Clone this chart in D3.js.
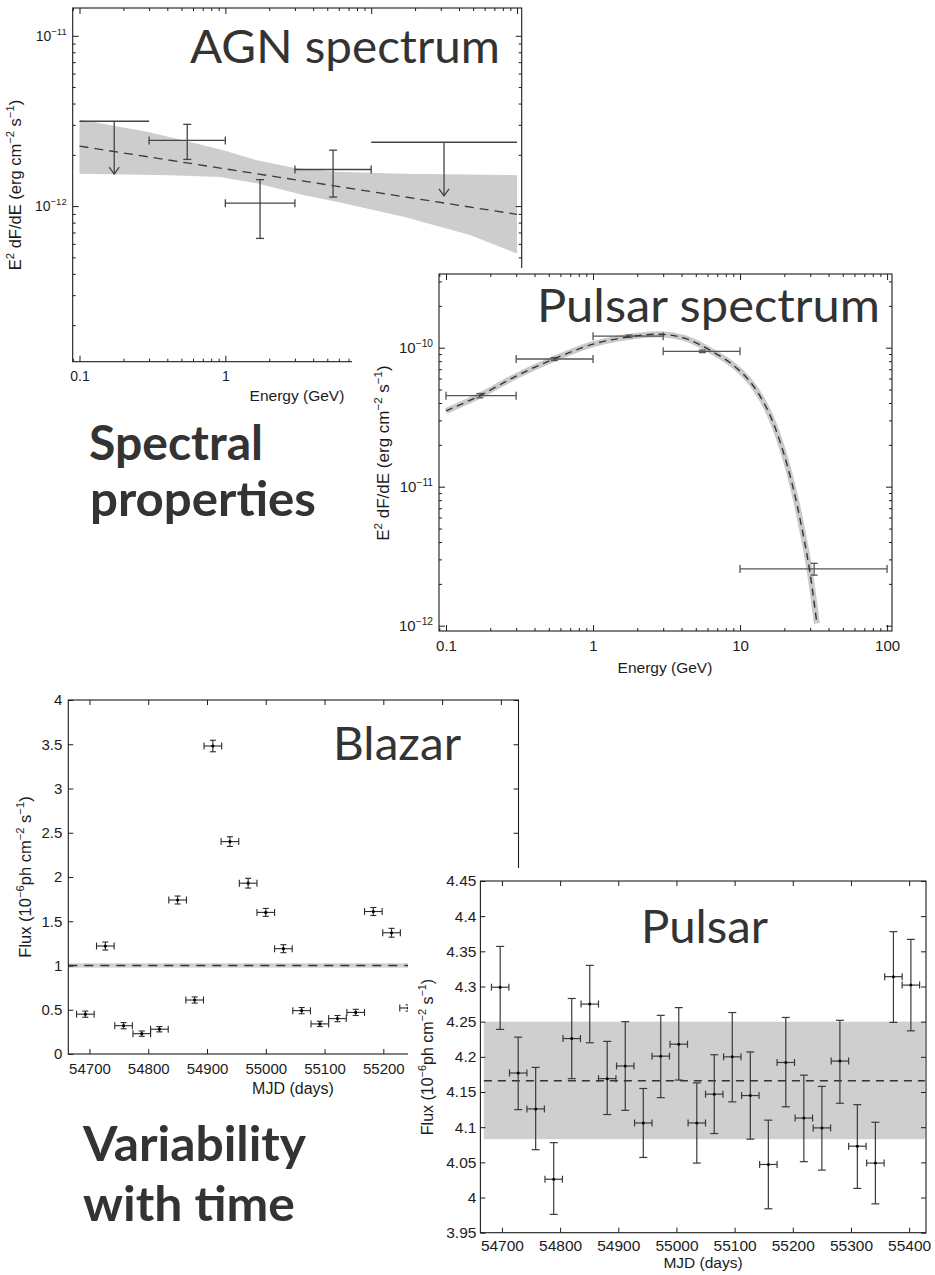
<!DOCTYPE html>
<html>
<head>
<meta charset="utf-8">
<title>Gamma-ray spectra and light curves</title>
<script src="https://cdn.jsdelivr.net/npm/d3@7/dist/d3.min.js"></script>
<style>
  html, body { margin: 0; padding: 0; background: #fff; }
  svg { display: block; }
</style>
</head>
<body>
<svg id="fig" width="935" height="1275"></svg>
<script>
// ---------- AGN spectrum: energy bins, fluxes, upper limits, power-law fit and band ----------
const agnBinLo   = [0.1, 0.3, 1, 3, 10];
const agnBinHi   = [0.3, 1, 3, 10, 100];
const agnEnergy  = [0.173, 0.548, 1.73, 5.48, 31.6];
const agnFlux    = [3.15e-12, 2.43e-12, 1.04e-12, 1.64e-12, 2.37e-12];
const agnFluxHi  = [3.15e-12, 3.02e-12, 1.43e-12, 2.13e-12, 2.37e-12];
const agnFluxLo  = [1.54e-12, 1.88e-12, 6.46e-13, 1.13e-12, 1.15e-12];
const agnIsLimit = [true, false, false, false, true];
const agnFitEnergy = [0.1, 100];
const agnFitFlux   = [2.25e-12, 8.94e-13];
const agnBandUpperE = [0.1, 0.29, 0.54, 0.97, 1.64, 2.93, 5.8, 16.7, 100];
const agnBandUpperF = [3.23e-12, 2.73e-12, 2.41e-12, 2.13e-12, 1.86e-12, 1.68e-12, 1.59e-12, 1.55e-12, 1.52e-12];
const agnBandLowerE = [0.1, 0.42, 0.92, 1.64, 3.41, 5.8, 16.7, 47.6, 100];
const agnBandLowerF = [1.55e-12, 1.52e-12, 1.48e-12, 1.36e-12, 1.16e-12, 1.06e-12, 8.65e-13, 6.76e-13, 5.27e-13];

// ---------- Pulsar spectrum: binned points and cut-off model curve ----------
const psrBinLo   = [0.1, 0.3, 1, 3, 10];
const psrBinHi   = [0.3, 1, 3, 10, 100];
const psrEnergy  = [0.17, 0.545, 1.76, 5.54, 31.9];
const psrFlux    = [4.52e-11, 8.29e-11, 1.21e-10, 9.42e-11, 2.56e-12];
const psrFluxErr = [1.6e-12, 2.0e-12, 2.4e-12, 2.0e-12, 2.5e-13];
const psrModelE  = [0.1, 0.17, 0.3, 0.54, 1.0, 1.78, 2.86, 4.1, 5.07, 6.23, 8.55, 11.7, 15.2, 18.7, 23.0, 26.9, 29.8, 33.3];
const psrModelF  = [3.51e-11, 4.52e-11, 6.25e-11, 8.29e-11, 1.06e-10, 1.2e-10, 1.25e-10, 1.18e-10, 1.08e-10, 9.6e-11,
                    7.8e-11, 5.69e-11, 3.66e-11, 2.11e-11, 9.73e-12, 4.49e-12, 2.45e-12, 1.04e-12];

// ---------- Blazar light curve (30-day bins) ----------
const blazarMjd  = [54693, 54727, 54758, 54789, 54819, 54850, 54879, 54910, 54939, 54970,
                    55000, 55030, 55061, 55092, 55122, 55153, 55183, 55214, 55243];
const blazarFlux = [0.45, 1.22, 0.32, 0.23, 0.28, 1.74, 0.61, 3.48, 2.40, 1.93,
                    1.60, 1.19, 0.49, 0.34, 0.40, 0.47, 1.61, 1.37, 0.52];
const blazarErr  = [0.035, 0.045, 0.035, 0.03, 0.03, 0.045, 0.035, 0.065, 0.055, 0.055,
                    0.045, 0.045, 0.035, 0.03, 0.035, 0.035, 0.045, 0.05, 0.035];
const blazarHalfBin = 15;
const blazarMean = 1.0;
const blazarMeanBand = [0.975, 1.025];

// ---------- Pulsar light curve (30-day bins) ----------
const pulsarMjd  = [54697, 54728, 54758, 54789, 54820, 54851, 54881, 54912, 54943, 54973, 55004, 55035,
                    55065, 55096, 55127, 55158, 55188, 55219, 55250, 55281, 55311, 55342, 55373, 55403];
const pulsarFlux = [4.299, 4.177, 4.126, 4.026, 4.226, 4.275, 4.169, 4.187, 4.106, 4.201, 4.218, 4.106,
                    4.147, 4.200, 4.145, 4.047, 4.192, 4.113, 4.099, 4.194, 4.073, 4.049, 4.314, 4.302];
const pulsarHi   = [4.357, 4.228, 4.185, 4.078, 4.283, 4.330, 4.222, 4.250, 4.155, 4.259, 4.270, 4.163,
                    4.203, 4.263, 4.207, 4.110, 4.256, 4.174, 4.158, 4.252, 4.132, 4.107, 4.378, 4.367];
const pulsarLo   = [4.239, 4.125, 4.068, 3.976, 4.169, 4.220, 4.118, 4.124, 4.057, 4.142, 4.167, 4.049,
                    4.091, 4.136, 4.083, 3.984, 4.129, 4.051, 4.039, 4.134, 4.013, 3.991, 4.249, 4.237];
const pulsarHalfBin = 15;
const pulsarMean = 4.166;
const pulsarMeanBand = [4.083, 4.25];
const pulsarBandMjd = [54669, 55427];

// ---------- tick values ----------
const energyTicks   = [0.1, 1, 10, 100];
const agnFluxTicks  = [1e-12, 1e-11];
const psrFluxTicks  = [1e-12, 1e-11, 1e-10];
const mjdTicks      = [54700, 54800, 54900, 55000, 55100, 55200, 55300, 55400];
const blazarTicks   = [0, 0.5, 1, 1.5, 2, 2.5, 3, 3.5, 4];
const pulsarTicks   = [3.95, 4, 4.05, 4.1, 4.15, 4.2, 4.25, 4.3, 4.35, 4.4, 4.45];

const AXIS_FONT  = '"Liberation Sans", Arial, Helvetica, sans-serif';
const TITLE_FONT = 'Lato, "Open Sans", "DejaVu Sans", sans-serif';
const INK = '#1c1c1c';
const TITLE_INK = '#333333';

const svg = d3.select('#fig');
svg.append('rect').attr('width', 935).attr('height', 1275).attr('fill', '#fff');

function minorLogTicks(domain) {
  const out = [];
  const lo = Math.floor(Math.log10(domain[0])), hi = Math.ceil(Math.log10(domain[1]));
  for (let e = lo; e < hi; e++) {
    for (let m = 2; m <= 9; m++) {
      const v = m * Math.pow(10, e);
      if (v >= domain[0] && v <= domain[1]) out.push(v);
    }
  }
  return out;
}

// Frame with inward ticks on all four sides (labels on bottom and left only)
function drawAxes(g, box, x, y, o) {
  const major = o.major || 6, minor = o.minor || 3;
  const blank = () => '';
  const style = s => s.attr('font-family', AXIS_FONT).attr('font-size', o.size).attr('color', INK)
    .call(t => t.select('.domain').remove());
  const add = (axis, tx, ty) => g.append('g').attr('transform', `translate(${tx},${ty})`).call(axis).call(style);

  add(d3.axisBottom(x).tickValues(o.xMajor).tickSizeInner(-major).tickSizeOuter(0).tickPadding(o.xPad).tickFormat(o.xFmt), 0, box.b);
  add(d3.axisTop(x).tickValues(o.xMajor).tickSizeInner(-major).tickSizeOuter(0).tickFormat(blank), 0, box.t);
  const left = add(d3.axisLeft(y).tickValues(o.yMajor).tickSizeInner(-major).tickSizeOuter(0).tickPadding(o.yPad)
    .tickFormat(o.ySup ? blank : o.yFmt), box.l, 0);
  add(d3.axisRight(y).tickValues(o.yMajor).tickSizeInner(-major).tickSizeOuter(0).tickFormat(blank), box.r, 0);

  if (o.xMinor) {
    add(d3.axisBottom(x).tickValues(o.xMinor).tickSizeInner(-minor).tickSizeOuter(0).tickFormat(blank), 0, box.b);
    add(d3.axisTop(x).tickValues(o.xMinor).tickSizeInner(-minor).tickSizeOuter(0).tickFormat(blank), 0, box.t);
  }
  if (o.yMinor) {
    add(d3.axisLeft(y).tickValues(o.yMinor).tickSizeInner(-minor).tickSizeOuter(0).tickFormat(blank), box.l, 0);
    add(d3.axisRight(y).tickValues(o.yMinor).tickSizeInner(-minor).tickSizeOuter(0).tickFormat(blank), box.r, 0);
  }
  if (o.ySup) {
    left.selectAll('.tick text').each(function (d) {
      const t = d3.select(this).text('');
      t.append('tspan').text('10');
      t.append('tspan').attr('dy', -6).attr('font-size', o.size * 0.68)
        .text('\u2212' + Math.abs(Math.round(Math.log10(d))));
    });
  }
  g.append('rect')
    .attr('x', box.l).attr('y', box.t).attr('width', box.r - box.l).attr('height', box.b - box.t)
    .attr('fill', 'none').attr('stroke', INK).attr('stroke-width', 1.1);
}

// Rotated axis title built from plain and superscript pieces
function yTitle(g, cx, cy, parts, size) {
  const t = g.append('text')
    .attr('transform', `translate(${cx + size * 0.36},${cy}) rotate(-90)`)
    .attr('text-anchor', 'middle').attr('font-family', AXIS_FONT).attr('font-size', size).attr('fill', INK);
  let raised = false;
  parts.forEach(([s, sup]) => {
    const sp = t.append('tspan').text(s);
    if (sup && !raised) { sp.attr('dy', -size * 0.42).attr('font-size', size * 0.68); raised = true; }
    else if (sup) { sp.attr('font-size', size * 0.68); }
    else if (raised) { sp.attr('dy', size * 0.42); raised = false; }
  });
}

function xTitle(g, cx, baseline, text, size) {
  g.append('text').attr('x', cx).attr('y', baseline).attr('text-anchor', 'middle')
    .attr('font-family', AXIS_FONT).attr('font-size', size).attr('fill', INK).text(text);
}

function bigText(txt, x, baseline, width, size, bold) {
  svg.append('text').attr('x', x).attr('y', baseline)
    .attr('font-family', TITLE_FONT).attr('font-size', size).attr('font-weight', bold ? 700 : 400)
    .attr('fill', TITLE_INK).attr('textLength', width).attr('lengthAdjust', 'spacingAndGlyphs').text(txt);
}

// Cross-shaped error bars; rows are already in pixel space
function crossBars(g, rows, o) {
  const s = g.append('g').attr('stroke', o.color).attr('stroke-width', o.width).attr('fill', 'none');
  s.append('g').selectAll('line').data(rows).join('line')
    .attr('x1', d => d.xl).attr('x2', d => d.xr).attr('y1', d => d.cy).attr('y2', d => d.cy);
  if (o.xCap) {
    const caps = rows.filter(d => !d.noCap).flatMap(d => [{ x: d.xl, y: d.cy }, { x: d.xr, y: d.cy }]);
    s.append('g').selectAll('line').data(caps).join('line')
      .attr('x1', d => d.x).attr('x2', d => d.x).attr('y1', d => d.y - o.xCap).attr('y2', d => d.y + o.xCap);
  }
  const vr = rows.filter(d => d.yt != null);
  s.append('g').selectAll('line').data(vr).join('line')
    .attr('x1', d => d.cx).attr('x2', d => d.cx).attr('y1', d => d.yt).attr('y2', d => d.yb);
  if (o.yCap) {
    const caps = vr.flatMap(d => [{ x: d.cx, y: d.yt }, { x: d.cx, y: d.yb }]);
    s.append('g').selectAll('line').data(caps).join('line')
      .attr('x1', d => d.x - o.yCap).attr('x2', d => d.x + o.yCap).attr('y1', d => d.y).attr('y2', d => d.y);
  }
  if (o.dot) {
    g.append('g').selectAll('circle').data(rows).join('circle')
      .attr('cx', d => d.cx).attr('cy', d => d.cy).attr('r', o.dot).attr('fill', o.dotColor || o.color);
  }
}

// ======================= AGN spectrum =======================
{
  const box = { l: 72.7, r: 521.7, t: 8, b: 361.7 };
  const x = d3.scaleLog().domain([0.0898, 107.7]).range([box.l, box.r]);
  const y = d3.scaleLog().domain([1.22e-13, 1.456e-11]).range([box.b, box.t]);
  const g = svg.append('g');

  const band = agnBandUpperE.map((e, i) => [e, agnBandUpperF[i]])
    .concat(agnBandLowerE.map((e, i) => [e, agnBandLowerF[i]]).reverse());
  g.append('path').datum(band)
    .attr('d', d3.line().x(d => x(d[0])).y(d => y(d[1])))
    .attr('fill', '#cdcdcd').attr('stroke', 'none');

  g.append('path').datum(agnFitEnergy.map((e, i) => [e, agnFitFlux[i]]))
    .attr('d', d3.line().x(d => x(d[0])).y(d => y(d[1])))
    .attr('fill', 'none').attr('stroke', '#3a3a3a').attr('stroke-width', 1.3).attr('stroke-dasharray', '9,6');

  const rows = agnEnergy.map((e, i) => ({
    cx: x(e), cy: y(agnFlux[i]), xl: x(agnBinLo[i]), xr: x(agnBinHi[i]),
    yt: agnIsLimit[i] ? null : y(agnFluxHi[i]), yb: agnIsLimit[i] ? null : y(agnFluxLo[i]),
    noCap: agnIsLimit[i]
  }));
  crossBars(g, rows, { color: '#444', width: 1.3, xCap: 4, yCap: 4 });

  // upper limits: drop line with an open arrow head
  const lim = agnEnergy.map((e, i) => ({ cx: x(e), top: y(agnFlux[i]), tip: y(agnFluxLo[i]), lim: agnIsLimit[i] }))
    .filter(d => d.lim);
  const la = g.append('g').attr('stroke', '#444').attr('stroke-width', 1.3).attr('fill', 'none');
  la.selectAll('line').data(lim).join('line')
    .attr('x1', d => d.cx).attr('x2', d => d.cx).attr('y1', d => d.top).attr('y2', d => d.tip);
  la.selectAll('path').data(lim).join('path')
    .attr('d', d => `M${d.cx - 5},${d.tip - 7}L${d.cx},${d.tip}L${d.cx + 5},${d.tip - 7}`);

  // the right part of this panel sits underneath the pulsar spectrum, so only the low-energy labels show
  drawAxes(g, box, x, y, {
    size: 14, xPad: 9, yPad: 6,
    xMajor: energyTicks, xMinor: minorLogTicks(x.domain()), xFmt: d => (d <= 1 ? d3.format('~g')(d) : ''),
    yMajor: agnFluxTicks, yMinor: minorLogTicks(y.domain()), ySup: true
  });
  yTitle(g, 15, 185, [['E'], ['2', true], [' dF/dE (erg cm'], ['\u22122', true], [' s'], ['\u22121', true], [')']], 16.5);
  xTitle(g, 297, 401, 'Energy (GeV)', 15.5);
}
bigText('AGN spectrum', 190, 63, 310, 47, false);

// ======================= Pulsar spectrum =======================
{
  const g = svg.append('g');
  g.append('rect').attr('x', 352).attr('y', 268).attr('width', 583).attr('height', 420).attr('fill', '#fff');
  const box = { l: 439, r: 892, t: 274, b: 631 };
  const x = d3.scaleLog().domain([0.0896, 108]).range([box.l, box.r]);
  const y = d3.scaleLog().domain([9.16e-13, 3.39e-10]).range([box.b, box.t]);

  const model = psrModelE.map((e, i) => [e, psrModelF[i]]);
  const curve = d3.line().x(d => x(d[0])).y(d => y(d[1])).curve(d3.curveCatmullRom);
  g.append('path').datum(model).attr('d', curve)
    .attr('fill', 'none').attr('stroke', '#c9c9c9').attr('stroke-width', 6);

  const rows = psrEnergy.map((e, i) => ({
    cx: x(e), cy: y(psrFlux[i]), xl: x(psrBinLo[i]), xr: x(psrBinHi[i]),
    yt: y(psrFlux[i] + psrFluxErr[i]), yb: y(psrFlux[i] - psrFluxErr[i])
  }));
  crossBars(g, rows, { color: '#555', width: 1.3, xCap: 4, yCap: 3.5 });

  g.append('path').datum(model).attr('d', curve)
    .attr('fill', 'none').attr('stroke', '#333').attr('stroke-width', 1.4).attr('stroke-dasharray', '7,5');

  drawAxes(g, box, x, y, {
    size: 15, xPad: 9, yPad: 6,
    xMajor: energyTicks, xMinor: minorLogTicks(x.domain()), xFmt: d3.format('~g'),
    yMajor: psrFluxTicks, yMinor: minorLogTicks(y.domain()), ySup: true
  });
  yTitle(g, 383, 453, [['E'], ['2', true], [' dF/dE (erg cm'], ['\u22122', true], [' s'], ['\u22121', true], [')']], 17);
  xTitle(g, 665, 673, 'Energy (GeV)', 15.5);
}
bigText('Pulsar spectrum', 537, 322, 343, 47, false);

bigText('Spectral', 89, 460, 174, 47, true);
bigText('properties', 90, 516, 226, 47, true);

// ======================= Blazar light curve =======================
{
  const g = svg.append('g');
  const box = { l: 68.3, r: 518.5, t: 700, b: 1054 };
  const x = d3.scaleLinear().domain([54664, 55430]).range([box.l, box.r]);
  const y = d3.scaleLinear().domain([0, 4]).range([box.b, box.t]);

  g.append('rect').attr('x', box.l).attr('width', box.r - box.l)
    .attr('y', y(blazarMeanBand[1])).attr('height', y(blazarMeanBand[0]) - y(blazarMeanBand[1]))
    .attr('fill', '#d2d2d2');
  g.append('line').attr('x1', box.l).attr('x2', box.r).attr('y1', y(blazarMean)).attr('y2', y(blazarMean))
    .attr('stroke', '#333').attr('stroke-width', 1.3).attr('stroke-dasharray', '9,7');

  const rows = blazarMjd.map((m, i) => ({
    cx: x(m), cy: y(blazarFlux[i]), xl: x(m - blazarHalfBin), xr: x(m + blazarHalfBin),
    yt: y(blazarFlux[i] + blazarErr[i]), yb: y(blazarFlux[i] - blazarErr[i])
  }));
  crossBars(g, rows, { color: '#2a2a2a', width: 1.1, xCap: 3.5, yCap: 3, dot: 1.6, dotColor: '#000' });

  // the pulsar light curve covers the late part of this axis, so its labels stop at 55200
  drawAxes(g, box, x, y, {
    size: 15, xPad: 9, yPad: 6, major: 5,
    xMajor: mjdTicks, xFmt: d => (d <= 55200 ? d3.format('d')(d) : ''),
    yMajor: blazarTicks, yFmt: d3.format('~g')
  });
  yTitle(g, 25, 877, [['Flux (10'], ['\u22126', true], ['ph cm'], ['\u22122', true], [' s'], ['\u22121', true], [')']], 16.5);
  xTitle(g, 293, 1094, 'MJD (days)', 16);
}
bigText('Blazar', 333, 760, 128, 47, false);

bigText('Variability', 83, 1161, 223, 47, true);
bigText('with time', 83, 1221, 212, 47, true);

// ======================= Pulsar light curve =======================
{
  const g = svg.append('g');
  g.append('rect').attr('x', 408).attr('y', 868).attr('width', 527).attr('height', 407).attr('fill', '#fff');
  const box = { l: 480.4, r: 926, t: 881, b: 1232.7 };
  const x = d3.scaleLinear().domain([54663, 55429]).range([box.l, box.r]);
  const y = d3.scaleLinear().domain([3.95, 4.45]).range([box.b, box.t]);

  g.append('rect').attr('x', x(pulsarBandMjd[0])).attr('width', x(pulsarBandMjd[1]) - x(pulsarBandMjd[0]))
    .attr('y', y(pulsarMeanBand[1])).attr('height', y(pulsarMeanBand[0]) - y(pulsarMeanBand[1]))
    .attr('fill', '#cfcfcf');
  g.append('line').attr('x1', x(pulsarBandMjd[0])).attr('x2', x(pulsarBandMjd[1]))
    .attr('y1', y(pulsarMean)).attr('y2', y(pulsarMean))
    .attr('stroke', '#333').attr('stroke-width', 1.3).attr('stroke-dasharray', '8,6');

  const rows = pulsarMjd.map((m, i) => ({
    cx: x(m), cy: y(pulsarFlux[i]), xl: x(m - pulsarHalfBin), xr: x(m + pulsarHalfBin),
    yt: y(pulsarHi[i]), yb: y(pulsarLo[i])
  }));
  crossBars(g, rows, { color: '#3a3a3a', width: 1.2, xCap: 3.5, yCap: 4, dot: 1.5, dotColor: '#000' });

  drawAxes(g, box, x, y, {
    size: 15.5, xPad: 7, yPad: 4, major: 5,
    xMajor: mjdTicks, xFmt: d3.format('d'),
    yMajor: pulsarTicks, yFmt: d3.format('~g')
  });
  yTitle(g, 427, 1057, [['Flux (10'], ['\u22126', true], ['ph cm'], ['\u22122', true], [' s'], ['\u22121', true], [')']], 16);
  xTitle(g, 703, 1268, 'MJD (days)', 15.5);
}
bigText('Pulsar', 641, 943, 127, 47, false);
</script>
</body>
</html>
